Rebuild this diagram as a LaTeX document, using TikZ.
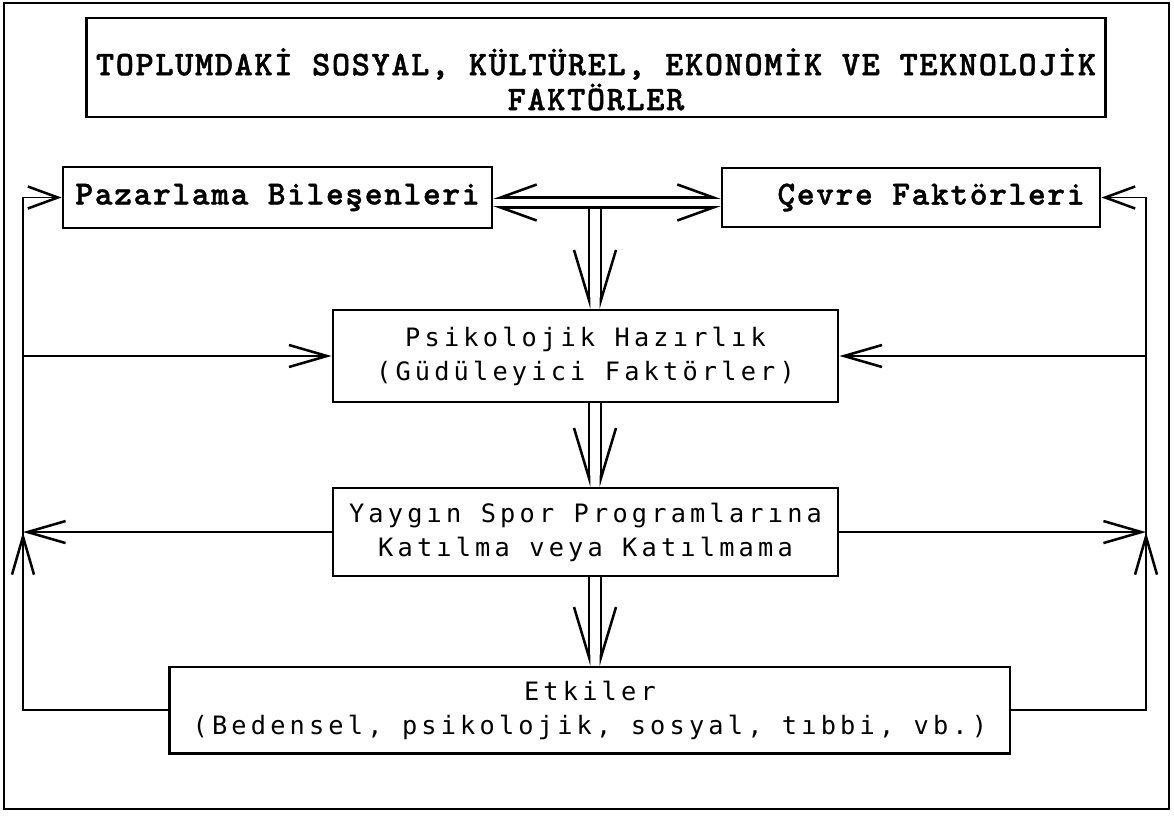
\documentclass[tikz,border=0pt]{standalone}
\usepackage{fontspec}
\usepackage{tikz}
\usetikzlibrary{arrows.meta,positioning}
\newfontfamily\typefont[LetterSpace=5,FakeBold=1.2]{lmmonolt10-bold.otf}
\newfontfamily\gothfont[LetterSpace=16.5]{DejaVu Sans Mono}
\tikzstyle{box} = [rectangle, draw=black, line width=2pt, inner sep=0pt, align=center]
\tikzstyle{topbox} = [box, font=\typefont\fontsize{24pt}{24.2pt}\selectfont]
\tikzstyle{midbox} = [box, font=\gothfont\fontsize{18pt}{24.2pt}\selectfont]
\tikzstyle{line} = [line width=1.3pt]
\tikzstyle{arrow} = [line, -{Straight Barb[length=0.95cm,width=0.55cm,line width=1.8pt]}]
\tikzstyle{feed} = [line, -{Straight Barb[length=0.75cm,width=0.55cm,line width=1.8pt]}]
\tikzstyle{pipe} = [line width=1.6pt]
\tikzstyle{dl} = [-{Straight Barb[right,length=1.25cm,width=0.75cm,line width=1.8pt]}]
\tikzstyle{dr} = [-{Straight Barb[left,length=1.25cm,width=0.75cm,line width=1.8pt]}]
\begin{document}
\begin{tikzpicture}[x=0.025cm, y=-0.025cm, node distance=4.4cm]
\useasboundingbox (0,0) rectangle (1174,815);
\draw [line width=1.6pt] (4,3) rectangle (1169,809);

		\node (title) [topbox, minimum width=25.45cm, minimum height=2.475cm, font=\typefont\fontsize{24.5pt}{24.8pt}\selectfont] at (596,67.5) {\rule{0pt}{36pt}TOPLUMDAKİ SOSYAL, KÜLTÜREL, EKONOMİK VE TEKNOLOJİK\\FAKTÖRLER};
		\node (pazar) [topbox, minimum width=10.725cm, minimum height=1.525cm] at (277.5,197.5) {Pazarlama Bileşenleri};
		\node (cevre) [topbox, minimum width=9.45cm, minimum height=1.475cm] at (911,197.5) {\hspace{1cm}Çevre Faktörleri};
		\node (psych) [midbox, minimum width=12.625cm, minimum height=2.3cm] at (585.5,356) {Psikolojik Hazırlık\\(Güdüleyici Faktörler)};
		\node (yaygin) [midbox, below of=psych, minimum width=12.625cm, minimum height=2.2cm] {Yaygın Spor Programlarına\\Katılma veya Katılmama};
		\node (etkiler) [midbox, below of=yaygin, xshift=0.11cm, yshift=-0.05cm, minimum width=21cm, minimum height=2.15cm] {Etkiler\\(Bedensel, psikolojik, sosyal, tıbbi, vb.)};

		\coordinate (lbus) at (23,0);
		\coordinate (rbus) at (1146,0);
		\coordinate (fork) at (595,207);

		% double connectors
		\draw [pipe, {Straight Barb[right,length=0.9cm,width=0.65cm,line width=1.8pt]}-{Straight Barb[left,length=0.9cm,width=0.65cm,line width=1.8pt]}] (pazar.east) -- (pazar.east -| cevre.west);
		\draw [pipe, {Straight Barb[left,length=0.9cm,width=0.65cm,line width=1.8pt]}-{Straight Barb[right,length=0.9cm,width=0.65cm,line width=1.8pt]}] ([yshift=-0.25cm]pazar.east) -- ([yshift=-0.25cm]pazar.east -| cevre.west);
		\draw [pipe, dl] ([xshift=-0.15cm]fork) -- ([xshift=-0.15cm]fork |- psych.north);
		\draw [pipe, dr] ([xshift=0.15cm]fork) -- ([xshift=0.15cm]fork |- psych.north);
		\draw [pipe, dl] ([xshift=-0.15cm]fork |- psych.south) -- ([xshift=-0.15cm]fork |- yaygin.north);
		\draw [pipe, dr] ([xshift=0.15cm]fork |- psych.south) -- ([xshift=0.15cm]fork |- yaygin.north);
		\draw [pipe, dl] ([xshift=-0.15cm]fork |- yaygin.south) -- ([xshift=-0.15cm]fork |- etkiler.north);
		\draw [pipe, dr] ([xshift=0.15cm]fork |- yaygin.south) -- ([xshift=0.15cm]fork |- etkiler.north);

		% feedback loops
		\draw [feed] (etkiler.west) -- (etkiler.west -| lbus) -- (pazar.west -| lbus) -- (pazar.west);
		\draw [arrow] (etkiler.west -| lbus) -- (yaygin.west -| lbus);
		\draw [arrow] (psych.west -| lbus) -- (psych.west);
		\draw [arrow] (yaygin.west) -- (yaygin.west -| lbus);
		\draw [feed] (etkiler.east) -- (etkiler.east -| rbus) -- (cevre.east -| rbus) -- (cevre.east);
		\draw [arrow] (etkiler.east -| rbus) -- (yaygin.east -| rbus);
		\draw [arrow] (psych.east -| rbus) -- (psych.east);
		\draw [arrow] (yaygin.east) -- (yaygin.east -| rbus);

\end{tikzpicture}
\end{document}
